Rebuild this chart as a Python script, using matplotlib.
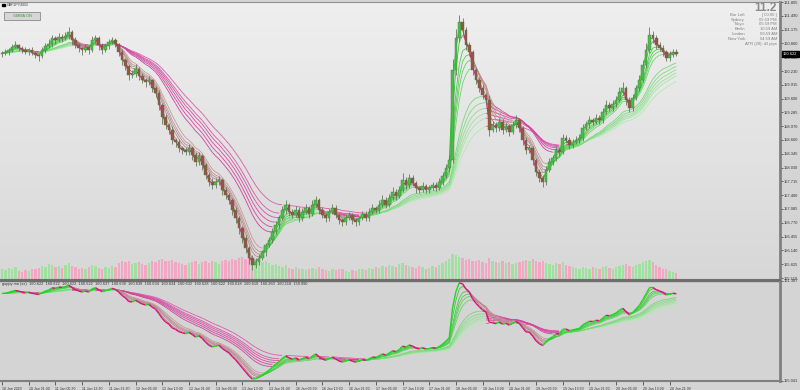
import matplotlib
matplotlib.use("Agg")
import matplotlib.pyplot as plt
import matplotlib.transforms as mtransforms
from matplotlib.collections import LineCollection
from matplotlib.colors import LinearSegmentedColormap, to_rgba
from matplotlib.patches import Rectangle
import numpy as np
import pandas as pd

plt.rcParams["font.family"] = ["Liberation Sans", "DejaVu Sans"]

# GBPJPY hourly closes (10 Jan 13:30 .. 20 Jan 23:30)
closes = [
    160.64, 160.66, 160.71, 160.78, 160.82, 160.76, 160.71, 160.67, 160.71, 160.64,
    160.60, 160.57, 160.71, 160.80, 160.85, 160.98, 160.94, 161.01, 160.98, 161.03,
    161.12, 160.94, 160.82, 160.76, 160.71, 160.78, 160.71, 160.94, 160.98, 160.82,
    160.71, 160.80, 160.89, 160.94, 160.85, 160.67, 160.48, 160.35, 160.14, 160.16,
    160.28, 160.12, 160.03, 159.98, 160.03, 159.84, 159.73, 159.46, 159.18, 159.00,
    158.89, 158.66, 158.61, 158.47, 158.43, 158.38, 158.47, 158.32, 158.16, 158.29,
    158.09, 157.86, 157.70, 157.63, 157.70, 157.75, 157.52, 157.40, 157.29, 157.06,
    156.88, 156.65, 156.42, 156.20, 155.97, 155.81, 155.88, 155.97, 156.10, 156.26,
    156.38, 156.56, 156.72, 156.88, 157.06, 157.18, 157.02, 156.95, 157.06, 156.88,
    157.02, 157.11, 156.97, 157.18, 157.29, 157.06, 156.95, 156.88, 157.02, 157.11,
    156.95, 156.83, 156.79, 156.88, 156.95, 156.83, 156.79, 156.88, 156.97, 156.88,
    157.02, 157.11, 157.06, 157.18, 157.29, 157.18, 157.34, 157.47, 157.38, 157.52,
    157.75, 157.63, 157.79, 157.68, 157.56, 157.52, 157.61, 157.52, 157.56, 157.63,
    157.56, 157.70, 157.84, 158.02, 158.20, 160.25, 160.98, 161.35, 161.17, 160.82,
    160.67, 160.25, 160.03, 159.84, 159.68, 159.57, 158.89, 159.00, 158.93, 159.07,
    158.89, 158.98, 158.84, 159.00, 159.11, 158.93, 158.66, 158.43, 158.47, 158.20,
    157.93, 157.79, 157.70, 157.97, 158.16, 158.25, 158.43, 158.38, 158.70, 158.66,
    158.54, 158.61, 158.66, 158.70, 158.93, 159.02, 159.11, 159.07, 159.16, 159.11,
    159.30, 159.46, 159.39, 159.48, 159.57, 159.75, 159.84, 159.57, 159.39, 159.61,
    159.84, 160.03, 160.37, 160.71, 161.05, 160.98, 160.82, 160.76, 160.67, 160.53,
    160.60, 160.67, 160.622,
]
first_open = 160.62

# wick lengths in pips above / below the body
upper_wick = [
    5, 8, 4, 6, 9, 3, 5, 7, 4, 6,
    5, 3, 8, 6, 10, 7, 5, 9, 6, 8,
    12, 4, 6, 5, 3, 7, 4, 9, 8, 5,
    4, 6, 8, 7, 5, 3, 6, 4, 5, 9,
    10, 4, 6, 5, 8, 3, 4, 6, 5, 7,
    4, 8, 5, 6, 4, 7, 9, 5, 6, 10,
    4, 5, 6, 8, 10, 9, 4, 6, 5, 4,
    6, 5, 4, 7, 5, 6, 9, 8, 6, 5,
    7, 10, 8, 6, 9, 12, 5, 7, 10, 6,
    8, 9, 5, 12, 10, 4, 6, 5, 8, 9,
    6, 5, 4, 8, 7, 5, 6, 5, 8, 6,
    9, 8, 5, 10, 12, 6, 9, 11, 7, 8,
    15, 6, 10, 7, 5, 6, 9, 5, 8, 7,
    6, 9, 8, 10, 12, 25, 20, 15, 10, 6,
    8, 5, 6, 7, 9, 5, 12, 10, 6, 9,
    7, 8, 5, 10, 12, 6, 5, 7, 8, 4,
    5, 6, 8, 10, 9, 7, 8, 6, 10, 8,
    6, 7, 8, 9, 10, 8, 9, 6, 10, 7,
    9, 12, 6, 8, 9, 11, 14, 5, 6, 10,
    8, 10, 12, 15, 18, 10, 8, 7, 6, 5,
    8, 7, 6,
]
lower_wick = [
    6, 4, 7, 5, 3, 8, 6, 4, 7, 5,
    8, 10, 4, 6, 5, 7, 9, 4, 8, 5,
    6, 10, 7, 9, 12, 5, 8, 4, 6, 10,
    9, 5, 6, 4, 8, 10, 12, 9, 11, 7,
    6, 10, 8, 12, 7, 9, 10, 12, 15, 8,
    10, 9, 12, 8, 10, 7, 6, 12, 10, 8,
    11, 10, 8, 9, 7, 6, 12, 9, 10, 12,
    11, 13, 10, 12, 14, 12, 8, 7, 6, 9,
    5, 6, 4, 7, 5, 8, 10, 6, 5, 9,
    7, 6, 8, 5, 6, 10, 8, 9, 6, 5,
    8, 9, 10, 6, 5, 8, 9, 6, 5, 7,
    6, 5, 7, 6, 4, 8, 5, 6, 9, 5,
    4, 9, 6, 8, 10, 7, 5, 8, 6, 5,
    7, 5, 6, 4, 8, 6, 10, 8, 12, 10,
    9, 12, 10, 8, 9, 10, 15, 6, 8, 7,
    10, 6, 9, 5, 7, 10, 12, 9, 8, 12,
    10, 9, 12, 6, 5, 7, 6, 8, 5, 7,
    9, 6, 5, 7, 6, 5, 8, 7, 5, 9,
    6, 5, 8, 6, 7, 5, 6, 12, 10, 8,
    5, 6, 5, 7, 6, 10, 9, 8, 10, 6,
    7, 6, 5,
]
volumes = [
    1200, 1100, 1400, 1300, 1500, 1000, 900, 1100, 1000, 1200,
    1300, 1400, 1600, 1500, 1800, 1700, 1500, 1600, 1400, 1700,
    1900, 1600, 1500, 1300, 1400, 1200, 1500, 1700, 1600, 1400,
    1300, 1500, 1400, 1600, 1500, 1900, 2100, 2000, 2200, 1800,
    1900, 2000, 1800, 1700, 1900, 2100, 2000, 2300, 2400, 2200,
    2100, 2300, 2000, 1900, 1800, 1700, 1900, 2000, 2200, 1800,
    2000, 2100, 1900, 2200, 2000, 1800, 2100, 2300, 2200, 2400,
    2300, 2500, 2600, 2400, 2700, 2500, 2300, 2100, 2000, 2200,
    1900, 1700, 1800, 1600, 1500, 1700, 1400, 1300, 1500, 1200,
    1300, 1100, 1200, 1400, 1300, 1500, 1200, 1100, 1000, 1200,
    1100, 1300, 1200, 1000, 900, 1100, 1000, 1200, 1300, 1100,
    1400, 1300, 1500, 1400, 1600, 1500, 1700, 1600, 1500, 1800,
    1900, 1700, 1600, 1500, 1400, 1600, 1500, 1300, 1400, 1600,
    1500, 1700, 1900, 2100, 2400, 3000, 2800, 2600, 2500, 2300,
    2400, 2200, 2100, 2300, 2000, 1900, 2500, 2200, 2000, 1900,
    2100, 1900, 2000, 1800, 1900, 2000, 2200, 2300, 2100, 2400,
    2200, 2000, 2100, 1900, 1800, 1700, 1900, 1800, 2000, 1700,
    1600, 1500, 1400, 1300, 1500, 1400, 1300, 1500, 1400, 1300,
    1500, 1600, 1400, 1300, 1500, 1600, 1700, 1800, 1600, 1500,
    1700, 1800, 2000, 2200, 2300, 2000, 1700, 1500, 1300, 1200,
    1000, 900, 800,
]

price_labels = ["161.805", "161.490", "161.175", "160.860", "160.545", "160.230",
                "159.915", "159.600", "159.285", "158.970", "158.660", "158.345",
                "158.030", "157.715", "157.400", "157.085", "156.770", "156.455",
                "156.140", "155.825", "155.510"]
time_labels = ["10 Jan 2023", "10 Jan 21:30", "11 Jan 05:30", "11 Jan 13:30",
               "11 Jan 21:30", "12 Jan 05:30", "12 Jan 13:30", "12 Jan 21:30",
               "13 Jan 05:30", "13 Jan 13:30", "13 Jan 21:30", "16 Jan 05:30",
               "16 Jan 13:30", "16 Jan 21:30", "17 Jan 05:30", "17 Jan 13:30",
               "17 Jan 21:30", "18 Jan 05:30", "18 Jan 13:30", "18 Jan 21:30",
               "19 Jan 05:30", "19 Jan 13:30", "19 Jan 21:30", "20 Jan 05:30",
               "20 Jan 13:30", "20 Jan 21:30"]
sub_labels = ["161.387", "155.041"]
gmma_readout = ["160.622", "160.622", "160.622", "160.622", "160.637", "160.638",
                "160.638", "160.634", "160.634", "160.632", "160.628", "160.622",
                "160.618", "160.610", "160.260", "160.118", "159.990"]
clock_rows = [("Bar Left", "[ 00:00 ]"), ("Sydney", "05:59 PM"), ("Tokyo", "05:59 PM"),
              ("Berlin", "10:59 AM"), ("London", "09:59 AM"), ("New York", "04:59 AM")]

# guppy spans (M30 periods halved for hourly bars)
short_spans = [1.5, 2.5, 4, 5, 6, 7.5]
long_spans = [15, 17.5, 20, 22.5, 25, 30]

short_up = ["#2fbf2f", "#38c438", "#41c941", "#4ace4a", "#53d353", "#5cd85c"]
short_dn = ["#a8767a", "#ae7c80", "#b48286", "#ba888c", "#c08e92", "#c69498"]
long_up = ["#74d874", "#80dc80", "#8ce08c", "#98e498", "#a4e8a4", "#b0ecb0"]
long_dn = ["#cf3f9c", "#d2449f", "#d549a2", "#d84ea5", "#db53a8", "#de58ab"]

close = np.array(closes)
opens = np.r_[first_open, close[:-1]]
high = np.maximum(opens, close) + np.array(upper_wick) / 100
low = np.minimum(opens, close) - np.array(lower_wick) / 100
bars = np.arange(len(close))
s = pd.Series(close)
short_emas = [s.ewm(span=sp, adjust=False).mean().values for sp in short_spans]
long_emas = [s.ewm(span=sp, adjust=False).mean().values for sp in long_spans]

W, H = 800, 390


def rect(x0, y0, x1, y1):
    return [x0 / W, 1 - y1 / H, (x1 - x0) / W, (y1 - y0) / H]


def slope_line(ax, values, up_c, dn_c, lw, z):
    pts = np.column_stack([bars, values])
    segs = np.stack([pts[:-1], pts[1:]], axis=1)
    rising = np.diff(values) >= 0
    cols = np.where(rising[:, None], to_rgba(up_c), to_rgba(dn_c))
    ax.add_collection(LineCollection(segs, colors=cols, linewidths=lw, zorder=z))


def ribbon(ax, fast_lw):
    for k in range(5, -1, -1):
        slope_line(ax, long_emas[k], long_up[k], long_dn[k], 0.6, 3)
    for k in range(5, 0, -1):
        slope_line(ax, short_emas[k], short_up[k], short_dn[k], 0.55, 4)
    slope_line(ax, short_emas[0], "#22d422", "#d8127a", fast_lw, 5)


xlim = (-0.6, 233.1)
fig = plt.figure(figsize=(8, 3.9), dpi=100, facecolor="#d4d4d4")
top = rect(0, 2, 780, 280)
bot = rect(0, 281, 780, 381)

# background gradient + volume behind the price pane
ax_bg = fig.add_axes(top, zorder=0)
ax_bg.imshow(np.linspace(0, 1, 256)[:, None], aspect="auto", extent=[0, 1, 0, 1],
             cmap=LinearSegmentedColormap.from_list("bg", ["#efefef", "#d7d7d7"]))
ax_bg.axis("off")

ax_vol = fig.add_axes(top, zorder=1)
ax_vol.patch.set_visible(False)
vcol = np.where(close >= opens, "#9fe29f", "#f2a7c2")
ax_vol.bar(bars, volumes, width=0.7, color=vcol, linewidth=0)
ax_vol.set_xlim(xlim)
ax_vol.set_ylim(0, max(volumes) * 10.5)
ax_vol.axis("off")

ax1 = fig.add_axes(top, zorder=2)
ax1.patch.set_visible(False)
ribbon(ax1, 0.7)
ax1.vlines(bars, low, high, color="#66795d", linewidth=0.6, zorder=6)
bcol = np.where(close >= opens, "#45c045", "#94573e")
ax1.bar(bars, close - opens, bottom=opens, width=0.8, color=bcol,
        edgecolor="#5a6f50", linewidth=0.3, zorder=6)
ax1.set_xlim(xlim)
ax1.set_ylim(155.465, 161.805)
ax1.set_xticks([])
ax1.yaxis.tick_right()
ax1.set_yticks([float(p) for p in price_labels], price_labels)
ax1.tick_params(axis="y", length=2, width=0.5, pad=1, labelsize=2.9,
                colors="#333333")
ax1.spines["left"].set_visible(False)
ax1.spines["right"].set_color("#808080")
ax1.spines["right"].set_linewidth(2)
ax1.spines["top"].set_color("#909090")
ax1.spines["top"].set_linewidth(0.8)
ax1.spines["bottom"].set_color("#6e6e6e")
ax1.spines["bottom"].set_linewidth(1.5)

trans = mtransforms.blended_transform_factory(ax1.transAxes, ax1.transData)
ax1.text(1.004, close[-1], f"{close[-1]:.3f}", transform=trans, ha="left",
         va="center", fontsize=2.9, color="white",
         bbox=dict(boxstyle="square,pad=0.3", fc="black", ec="black"))

# lower indicator window
ax2 = fig.add_axes(bot, facecolor="#d4d4d4")
ribbon(ax2, 1.0)
all_lines = np.array(short_emas + long_emas)
lo, hi = all_lines.min(), all_lines.max()
pad = (hi - lo) * 0.02
ax2.set_xlim(xlim)
ax2.set_ylim(lo - pad, hi + pad)
ax2.yaxis.tick_right()
ax2.set_yticks([hi + pad, lo - pad], sub_labels)
ax2.tick_params(axis="y", length=2, width=0.5, pad=1, labelsize=2.9,
                colors="#333333")
ax2.set_xticks(bars[::8][:len(time_labels)], time_labels)
ax2.tick_params(axis="x", length=3, width=0.5, pad=1.2, labelsize=2.5,
                colors="#333333")
for lab in ax2.get_xticklabels():
    lab.set_ha("left")
ax2.spines["left"].set_visible(False)
ax2.spines["right"].set_color("#808080")
ax2.spines["right"].set_linewidth(2)
ax2.spines["bottom"].set_color("#808080")
ax2.spines["bottom"].set_linewidth(1.5)
ax2.spines["top"].set_color("#6e6e6e")
ax2.spines["top"].set_linewidth(1)
ax2.text(0.003, 0.985, "guppy ma (xx)  " + "  ".join(gmma_readout),
         transform=ax2.transAxes, ha="left", va="top", fontsize=2.8,
         color="#333333", zorder=8)

# header texts
fig.patches.append(Rectangle((2 / W, 1 - 6 / H), 3 / W, 2 / H, color="black",
                             transform=fig.transFigure, figure=fig))
fig.text(7 / W, 1 - 5 / H, "GBPJPY,M30", fontsize=2.6, color="#333333",
         va="center", ha="left")
fig.patches.append(Rectangle((4 / W, 1 - 20 / H), 36 / W, 8 / H, fc="#d6d6d6",
                             ec="#8a8a8a", lw=0.6, transform=fig.transFigure,
                             figure=fig, zorder=5))
fig.text(22 / W, 1 - 16 / H, "GMMA ON", fontsize=2.8, color="#3a9a3a",
         ha="center", va="center", zorder=6)

fig.text(777 / W, 1 - 8 / H, "11.2", fontsize=8.5, fontweight="bold",
         color="#8c8c8c", ha="right", va="center")
for i, (name, val) in enumerate(clock_rows):
    yy = 1 - (15 + 4.7 * i) / H
    fig.text(745 / W, yy, name, fontsize=3, color="#808080", ha="right",
             va="center")
    fig.text(777 / W, yy, val, fontsize=3, color="#808080", ha="right",
             va="center")
fig.text(777 / W, 1 - 43.5 / H, "ATR (20): 42 pips", fontsize=3,
         color="#808080", ha="right", va="center")

fig.savefig("out.png", dpi=100, facecolor=fig.get_facecolor())
